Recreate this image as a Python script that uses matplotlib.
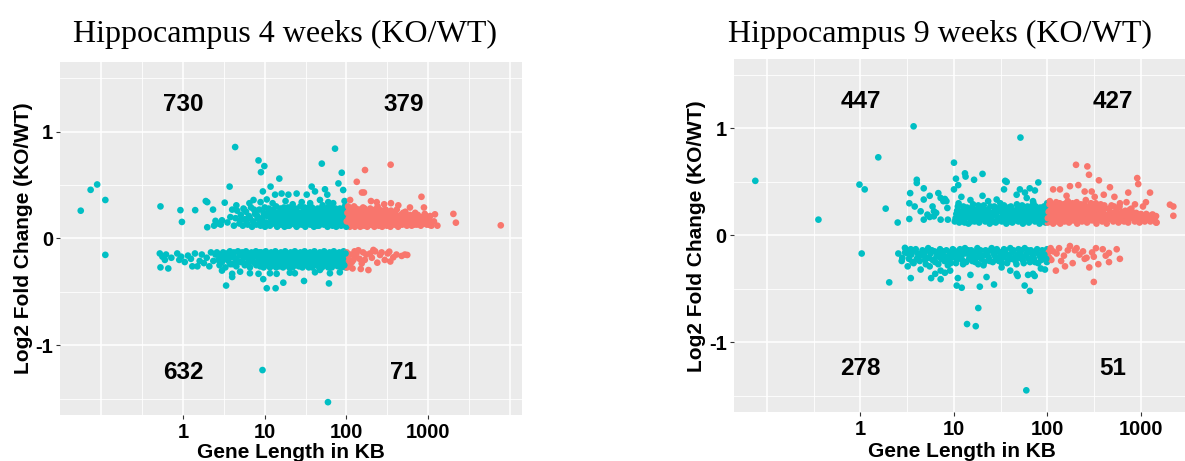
import numpy as np
import matplotlib.pyplot as plt

plt.rcParams['font.family'] = ['Liberation Sans', 'DejaVu Sans']
plt.rcParams['axes.unicode_minus'] = False

TEAL = "#00BFC4"
SALMON = "#F8766D"

# (gene length in KB, log2 fold change)
wk4_up = [
    (0.056, .26), (0.074, .455), (0.089, .505), (0.112, .36),
    (0.53, .30), (0.93, .265), (0.97, .155), (1.41, .265), (1.9, .35), (1.98, .34), (1.98, .105),
    (2.33, .27), (2.5, .165), (2.4, .12), (2.7, .14), (2.9, .13), (3.24, .335), (3.0, .17), (3.5, .15),
    (3.72, .485), (3.8, .20), (4.0, .27), (4.35, .855), (4.5, .31), (5.5, .28),
    (7.3, .36), (8.4, .73), (9.0, .62), (9.9, .677), (8.9, .34), (10.6, .365), (9.5, .44), (11.8, .485),
    (13.4, .41), (15.1, .56), (16.1, .42), (19.5, .41), (24.6, .42), (28.4, .34), (32.7, .41), (37.6, .485),
    (41.3, .44), (47.5, .36), (50, .70), (54.7, .46), (58.4, .41), (69, .33), (72.6, .84), (79.9, .515),
    (87.7, .615), (91.4, .453), (6.5, .33), (12.5, .33), (18, .35), (22, .32), (36, .33), (60, .34), (95, .35),
    (4.2, .12), (4.4, .19), (4.6, .26), (4.9, .14), (5.1, .22), (5.4, .12), (5.7, .18), (5.9, .25), (6.2, .13),
    (6.4, .21), (6.8, .29), (7.0, .11), (7.2, .16), (7.6, .23), (7.9, .13), (8.2, .19), (8.6, .27), (8.9, .12),
    (9.3, .17), (9.7, .24), (10.1, .11), (10.4, .15), (10.8, .21), (11.2, .28), (11.6, .12), (12.0, .18),
    (12.4, .24), (12.9, .14), (13.3, .20), (13.8, .30), (14.2, .11), (14.7, .16), (15.2, .23), (15.8, .13),
    (16.3, .19), (16.9, .26), (17.5, .11), (18.1, .15), (18.7, .21), (19.3, .29), (20.0, .12), (20.7, .18),
    (21.4, .25), (22.2, .14), (23.0, .20), (23.8, .28), (24.6, .11), (25.5, .16), (26.4, .22), (27.3, .30),
    (28.3, .13), (29.3, .19), (30.3, .26), (31.4, .11), (32.5, .16), (33.7, .23), (34.9, .29), (36.1, .13),
    (37.4, .18), (38.7, .25), (40.1, .11), (41.5, .15), (43.0, .21), (44.5, .28), (46.1, .12), (47.7, .18),
    (49.4, .24), (51.2, .31), (53.0, .13), (54.9, .19), (56.8, .26), (58.8, .11), (60.9, .16), (63.1, .22),
    (65.3, .29), (67.6, .12), (70.0, .18), (72.5, .25), (75.1, .11), (77.7, .15), (80.5, .21), (83.3, .28),
    (86.3, .12), (89.3, .17), (92.5, .23), (95.8, .30), (97.5, .13), (99.0, .19),
    (100.5, .12), (102, .20), (104, .28), (106, .15), (108, .23), (110, .11), (113, .18), (115, .26),
    (118, .13), (121, .21), (124, .30), (127, .11), (130, .16), (133, .24), (137, .13), (140, .19),
    (144, .27), (148, .11), (152, .15), (156, .22), (160, .29), (165, .12), (170, .18), (175, .25),
    (180, .11), (185, .15), (190, .21), (196, .28), (202, .13), (208, .19), (214, .26), (220, .11),
    (227, .16), (234, .23), (241, .30), (249, .12), (257, .18), (265, .24), (274, .11), (283, .15),
    (292, .21), (302, .27), (312, .12), (323, .18), (334, .25), (346, .11), (358, .16), (371, .22),
    (385, .13), (399, .19), (414, .27), (430, .11), (447, .16), (465, .22), (484, .13), (505, .19),
    (527, .25), (550, .12), (575, .17), (602, .22), (630, .12), (660, .16), (695, .24), (730, .13),
    (770, .19), (815, .12), (860, .17), (910, .23), (965, .13), (1030, .18), (1100, .12), (1180, .16),
    (348, .69), (169, .64), (134, .53), (164, .43), (155, .43), (111, .36), (235, .34), (351, .33),
    (432, .31), (830, .39), (890, .29), (1214, .226), (2040, .23), (2190, .148), (7760, .123), (725, .20),
    (960, .173), (1050, .126), (200, .35), (290, .32), (600, .29), (1300, .12),
]
wk4_up_band = [
    (5.0, .17), (5.6, .27), (6.0, .15), (6.6, .19), (7.4, .27), (8.0, .22), (8.8, .15), (9.5, .20),
    (10.0, .29), (10.6, .13), (11.0, .24), (11.8, .20), (12.2, .15), (12.7, .27), (13.5, .16), (14.0, .24),
    (14.9, .20), (15.5, .28), (16.1, .15), (16.6, .22), (17.2, .29), (17.8, .18), (18.4, .25), (19.0, .12),
    (19.7, .17), (20.4, .23), (21.0, .29), (21.8, .16), (22.6, .21), (23.4, .13), (24.2, .19), (25.0, .25),
    (25.9, .13), (26.8, .18), (27.8, .24), (28.8, .16), (29.8, .22), (30.8, .29), (31.9, .14), (33.1, .19),
    (34.3, .26), (35.5, .16), (36.8, .21), (38.0, .29), (39.4, .14), (40.8, .19), (42.2, .25), (43.7, .12),
    (45.3, .16), (46.9, .22), (48.5, .28), (50.3, .15), (52.1, .21), (53.9, .27), (55.8, .16), (57.8, .22),
    (59.9, .29), (62.0, .14), (64.2, .19), (66.4, .26), (68.7, .15), (71.2, .21), (73.7, .28), (76.3, .16),
    (79.0, .24), (81.9, .13), (84.8, .19), (87.9, .25), (91.0, .15), (94.0, .21), (97.0, .27), (98.5, .16),
    (99.5, .23), (99.6, .11),
    (101, .16), (103, .24), (105, .30), (107, .19), (109, .27), (111, .15), (114, .22), (116, .13),
    (119, .18), (122, .26), (125, .15), (128, .21), (131, .28), (135, .18), (138, .26), (142, .15),
    (146, .23), (150, .19), (154, .27), (158, .16), (163, .21), (167, .28), (172, .14), (177, .21),
    (182, .18), (188, .25), (193, .13), (199, .17), (205, .23), (211, .15), (217, .21), (224, .27),
    (231, .19), (238, .14), (245, .21), (253, .27), (261, .15), (270, .20), (279, .26), (288, .18),
    (297, .13), (307, .23), (318, .15), (329, .21), (340, .18), (352, .26), (365, .14), (378, .19),
    (392, .24), (406, .15), (422, .21), (438, .18), (456, .13), (475, .18), (495, .24), (516, .15),
    (540, .21), (563, .14), (590, .19), (615, .15), (645, .20), (680, .13), (712, .17), (750, .22),
    (790, .14), (840, .20), (890, .14), (940, .19), (1000, .14), (1060, .21),
]
wk4_dn = [
    (0.112, -.153), (0.52, -.14), (0.53, -.27), (0.56, -.17), (0.6, -.20), (0.62, -.15), (0.66, -.28),
    (0.72, -.18), (0.85, -.14), (0.9, -.20), (0.95, -.17), (1.05, -.22), (1.15, -.16), (1.25, -.19),
    (1.3, -.26), (1.4, -.14), (1.5, -.26), (1.6, -.21), (1.7, -.15), (1.8, -.23), (1.95, -.18),
    (2.1, -.26), (2.2, -.13), (2.35, -.21), (2.5, -.15),
    (3.37, -.44), (9.6, -.38), (10.6, -.465), (13.6, -.465), (16.9, -.413), (30.3, -.397), (61.2, -.42),
    (9.4, -1.23), (59.5, -1.53),
    (6.6, -.325), (8.4, -.33), (11.6, -.325), (14.0, -.33), (20.3, -.32), (23.4, -.325), (41.3, -.316),
    (47.5, -.294), (62.9, -.325), (83, -.316), (4.0, -.33), (4.0, -.36), (3.0, -.30), (5, -.31),
    (2.6, -.13), (2.7, -.20), (2.8, -.25), (2.9, -.16), (3.0, -.22), (3.1, -.13), (3.2, -.18), (3.3, -.27),
    (3.45, -.14), (3.6, -.21), (3.75, -.12), (3.9, -.17), (4.05, -.24), (4.2, -.13), (4.35, -.19),
    (4.5, -.26), (4.7, -.12), (4.9, -.16), (5.1, -.22), (5.3, -.13), (5.5, -.18), (5.7, -.25), (5.9, -.12),
    (6.1, -.15), (6.4, -.21), (6.6, -.27), (6.9, -.13), (7.2, -.18), (7.5, -.23), (7.8, -.12), (8.1, -.16),
    (8.4, -.21), (8.8, -.26), (9.1, -.13), (9.5, -.18), (9.9, -.23), (10.3, -.12), (10.7, -.16),
    (11.1, -.21), (11.6, -.27), (12.0, -.13), (12.5, -.18), (13.0, -.23), (13.5, -.12), (14.0, -.16),
    (14.6, -.21), (15.2, -.26), (15.8, -.13), (16.4, -.18), (17.1, -.23), (17.8, -.12), (18.5, -.16),
    (19.2, -.21), (20.0, -.27), (20.8, -.13), (21.6, -.18), (22.5, -.23), (23.4, -.12), (24.3, -.16),
    (25.3, -.21), (26.3, -.26), (27.4, -.13), (28.5, -.18), (29.6, -.23), (30.8, -.12), (32.0, -.16),
    (33.3, -.21), (34.6, -.27), (36.0, -.13), (37.5, -.18), (39.0, -.23), (40.6, -.12), (42.2, -.16),
    (43.9, -.21), (45.6, -.26), (47.4, -.13), (49.3, -.18), (51.3, -.23), (53.4, -.12), (55.5, -.16),
    (57.7, -.21), (60.0, -.27), (62.4, -.13), (64.9, -.18), (67.5, -.23), (70.2, -.12), (73.0, -.16),
    (75.9, -.21), (79.0, -.26), (82.1, -.13), (85.4, -.18), (88.8, -.23), (92.4, -.12), (96.1, -.16),
    (99.0, -.21), (98, -.27),
    (556, -.154), (475, -.163), (335, -.123), (375, -.176), (295, -.20), (214, -.107), (195, -.14),
    (154, -.233), (186, -.295), (150, -.285), (258, -.154), (239, -.226), (122, -.20), (110, -.26),
    (133, -.14), (101, -.13), (104, -.19), (107, -.24), (113, -.15), (117, -.22), (126, -.12), (129, -.17),
    (140, -.11), (145, -.19), (160, -.13), (168, -.2), (175, -.15), (205, -.18), (225, -.12), (270, -.13),
    (320, -.14), (345, -.215), (410, -.15), (520, -.15), (102, -.27), (119, -.28),
]
wk4_dn_band = [
    (3.0, -.16), (3.4, -.19), (3.8, -.24), (4.1, -.15), (4.6, -.21), (5.0, -.14), (5.4, -.22), (5.8, -.17),
    (6.3, -.24), (6.7, -.16), (7.0, -.21), (7.4, -.14), (7.9, -.25), (8.3, -.18), (8.6, -.13), (9.0, -.22),
    (9.3, -.15), (9.7, -.27), (10.1, -.19), (10.5, -.14), (10.9, -.25), (11.4, -.17), (11.8, -.22),
    (12.3, -.14), (12.8, -.25), (13.2, -.19), (13.8, -.27), (14.3, -.14), (14.9, -.19), (15.5, -.23),
    (16.1, -.15), (16.8, -.27), (17.4, -.20), (18.1, -.14), (18.9, -.25), (19.6, -.18), (20.4, -.22),
    (21.2, -.15), (22.0, -.27), (22.9, -.19), (23.8, -.14), (24.8, -.25), (25.8, -.18), (26.8, -.15),
    (27.9, -.22), (29.0, -.27), (30.2, -.16), (31.4, -.19), (32.6, -.25), (33.9, -.14), (35.3, -.23),
    (36.7, -.16), (38.2, -.27), (39.8, -.19), (41.4, -.14), (43.0, -.25), (44.7, -.17), (46.5, -.22),
    (48.3, -.15), (50.3, -.27), (52.3, -.20), (54.4, -.14), (56.6, -.25), (58.8, -.18), (61.2, -.23),
    (63.6, -.15), (66.2, -.27), (68.8, -.19), (71.6, -.14), (74.5, -.25), (77.4, -.17), (80.5, -.22),
    (83.7, -.15), (87.1, -.27), (90.6, -.19), (94.2, -.25), (97.5, -.14),
]

wk9_up = [
    (0.075, .51), (0.355, .147), (0.975, .475), (1.11, .43), (1.55, .73), (1.86, .25), (2.5, .12),
    (3.33, .153), (3.4, .395), (3.33, .30), (3.7, 1.02), (4.0, .52), (4.0, .49), (4.75, .44), (5.5, .37),
    (6.8, .395), (7.2, .35), (8.0, .34), (8.5, .256), (8.6, .147), (7.2, .147), (6.45, .21), (6.1, .178),
    (5.2, .194), (4.75, .147), (5.5, .172), (6.1, .225), (4.4, .225), (3.8, .27), (7.7, .32), (4.75, .335),
    (5.9, .27), (8.3, .32),
    (10, .68), (10.5, .53), (11.1, .47), (13.1, .58), (13.3, .55), (16.4, .52), (20.2, .575), (10, .43),
    (20.2, .37), (23.2, .32), (28.6, .335), (34.3, .43), (36.6, .50), (35.3, .51), (46.8, .38), (50.7, .43),
    (51.4, .915), (57.4, .40), (64.6, .44), (73.4, .42), (79.8, .495), (60, .35), (70, .32), (12, .36), (15, .33),
    (10.2, .13), (10.6, .20), (11.0, .27), (11.4, .12), (11.9, .17), (12.3, .23), (12.8, .14), (13.3, .19),
    (13.8, .26), (14.3, .11), (14.9, .16), (15.4, .22), (16.0, .29), (16.6, .13), (17.2, .18), (17.9, .24),
    (18.6, .12), (19.3, .16), (20.0, .21), (20.8, .28), (21.6, .13), (22.4, .18), (23.2, .24), (24.1, .11),
    (25.0, .15), (26.0, .21), (27.0, .27), (28.0, .12), (29.1, .17), (30.2, .23), (31.3, .30), (32.5, .13),
    (33.7, .18), (35.0, .24), (36.3, .11), (37.7, .15), (39.1, .21), (40.6, .27), (42.1, .12), (43.7, .17),
    (45.4, .23), (47.1, .29), (48.9, .13), (50.7, .18), (52.6, .24), (54.6, .11), (56.7, .15), (58.8, .21),
    (61.0, .27), (63.3, .12), (65.7, .17), (68.2, .23), (70.8, .30), (73.5, .13), (76.3, .18), (79.2, .24),
    (82.2, .11), (85.3, .15), (88.5, .21), (91.8, .27), (95.3, .12), (98.9, .18), (97, .24), (99.2, .30),
    (100.5, .12), (102, .19), (104, .26), (106, .32), (108, .14), (110, .21), (113, .28), (115, .11),
    (118, .17), (121, .24), (124, .31), (127, .13), (130, .19), (133, .26), (137, .11), (140, .16),
    (144, .22), (148, .29), (152, .13), (156, .18), (160, .25), (165, .32), (170, .12), (175, .17),
    (180, .23), (185, .30), (190, .14), (196, .20), (202, .27), (208, .11), (214, .16), (220, .22),
    (227, .29), (234, .13), (241, .19), (249, .25), (257, .33), (265, .12), (274, .17), (283, .23),
    (292, .30), (302, .14), (312, .20), (323, .26), (334, .11), (346, .16), (358, .22), (371, .29),
    (385, .13), (399, .18), (414, .25), (430, .11), (447, .15), (465, .21), (484, .28), (505, .13),
    (527, .18), (550, .24), (575, .12), (602, .16), (630, .22), (660, .13), (695, .18), (730, .12),
    (770, .16), (815, .21), (860, .13), (910, .17), (965, .12), (1030, .16), (1100, .13), (1180, .17),
    (1260, .13), (1350, .16), (1450, .12),
    (202, .66), (267, .645), (278, .567), (355, .515), (912, .536), (935, .48), (1250, .40), (1130, .31),
    (731, .40), (2040, .287), (2220, .27), (2220, .183), (1450, .18), (1470, .12), (214, .47), (174, .46),
    (466, .45), (297, .41), (596, .30), (760, .24), (863, .29), (977, .18), (1333, .195), (115, .43),
    (136, .43), (250, .41), (400, .38), (520, .36), (700, .31), (160, .37), (320, .36), (1050, .27),
]
wk9_up_band = [
    (10.4, .16), (10.8, .23), (11.2, .30), (11.7, .15), (12.1, .20), (12.6, .27), (13.0, .12), (13.6, .22),
    (14.1, .17), (14.6, .25), (15.2, .13), (15.7, .19), (16.3, .24), (16.9, .16), (17.5, .21), (18.2, .28),
    (18.9, .15), (19.6, .19), (20.4, .25), (21.2, .16), (22.0, .22), (22.8, .14), (23.6, .20), (24.5, .27),
    (25.5, .18), (26.5, .13), (27.5, .24), (28.5, .19), (29.6, .14), (30.7, .26), (31.9, .16), (33.1, .21),
    (34.3, .28), (35.6, .15), (37.0, .19), (38.4, .26), (39.8, .13), (41.3, .18), (42.9, .23), (44.5, .14),
    (46.2, .20), (47.9, .26), (49.8, .16), (51.6, .21), (53.6, .28), (55.6, .14), (57.7, .18), (59.9, .24),
    (62.1, .16), (64.5, .20), (66.9, .27), (69.5, .15), (72.1, .21), (74.8, .27), (77.7, .15), (80.6, .20),
    (83.7, .26), (86.8, .13), (90.1, .18), (93.5, .23), (96.5, .15), (98.0, .28), (99.5, .21),
    (101, .16), (103, .22), (105, .29), (107, .17), (109, .24), (112, .14), (114, .20), (117, .26),
    (119, .14), (122, .20), (126, .27), (129, .16), (132, .22), (135, .30), (139, .14), (142, .20),
    (146, .26), (150, .16), (154, .22), (158, .30), (163, .15), (167, .21), (173, .27), (178, .14),
    (183, .20), (188, .26), (193, .17), (199, .23), (205, .31), (211, .14), (217, .19), (224, .26),
    (231, .16), (238, .22), (245, .29), (253, .15), (261, .21), (270, .27), (279, .14), (288, .20),
    (297, .26), (307, .17), (318, .23), (329, .30), (340, .14), (352, .19), (365, .26), (378, .16),
    (392, .21), (406, .28), (422, .14), (438, .19), (456, .25), (475, .16), (495, .21), (516, .27),
    (540, .15), (563, .20), (590, .27), (615, .14), (645, .19), (680, .23), (712, .15), (750, .20),
    (790, .25), (840, .16), (890, .21), (940, .15), (1000, .20), (1060, .14), (1140, .20), (1220, .15),
    (1300, .19), (1400, .16),
]
wk9_dn = [
    (1.03, -.17), (2.03, -.44), (2.54, -.17), (2.99, -.117), (3.45, -.13), (2.76, -.24), (3.2, -.29),
    (3.45, -.40), (4.4, -.32), (4.9, -.23), (5.5, -.29), (5.7, -.40), (7.2, -.33), (7.2, -.41), (8.0, -.35),
    (9.1, -.33), (10.7, -.47), (12.1, -.49), (18.9, -.48), (22.3, -.39), (26.8, -.46), (32.3, -.30),
    (46.8, -.36), (57, -.47), (64.8, -.52), (70, -.36), (18.2, -.68), (13.8, -.83), (17.1, -.85),
    (59.4, -1.45), (62, -.37), (73, -.38), (94, -.32), (2.8, -.21), (3.0, -.16), (3.6, -.25), (4.2, -.20),
    (6.3, -.36), (8.6, -.28), (15, -.37), (11, -.40), (48, -.38), (40, -.33), (85, -.31),
    (3.1, -.14), (3.3, -.22), (3.5, -.18), (3.7, -.26), (3.9, -.13), (4.1, -.17), (4.3, -.24), (4.6, -.14),
    (4.8, -.19), (5.0, -.27), (5.3, -.12), (5.6, -.17), (5.9, -.23), (6.2, -.15), (6.5, -.20), (6.8, -.27),
    (7.1, -.13), (7.5, -.18), (7.9, -.24), (8.3, -.14), (8.7, -.20), (9.2, -.26), (9.7, -.13), (10.2, -.18),
    (10.7, -.23), (11.3, -.15), (11.9, -.20), (12.5, -.27), (13.1, -.12), (13.8, -.17), (14.5, -.22),
    (15.3, -.14), (16.1, -.19), (16.9, -.25), (17.8, -.12), (18.7, -.17), (19.7, -.22), (20.7, -.28),
    (21.8, -.14), (22.9, -.19), (24.1, -.24), (25.3, -.12), (26.6, -.17), (28.0, -.22), (29.5, -.15),
    (31.0, -.20), (32.6, -.26), (34.3, -.13), (36.1, -.18), (38.0, -.23), (40.0, -.12), (42.1, -.16),
    (44.3, -.21), (46.6, -.27), (49.0, -.13), (51.6, -.18), (54.3, -.23), (57.1, -.12), (60.1, -.17),
    (63.2, -.22), (66.5, -.14), (70.0, -.19), (73.6, -.25), (77.5, -.13), (81.5, -.18), (85.8, -.23),
    (90.2, -.15), (94.9, -.20), (98.5, -.25), (99, -.13),
    (115, -.15), (133, -.12), (174, -.10), (196, -.14), (220, -.18), (150, -.19), (123, -.33), (154, -.29),
    (186, -.26), (262, -.21), (280, -.30), (330, -.12), (313, -.20), (350, -.27), (390, -.13), (455, -.165),
    (455, -.25), (550, -.13), (595, -.22), (313, -.436), (110, -.23), (102, -.16), (105, -.21), (108, -.12),
    (125, -.17), (140, -.24), (165, -.14), (205, -.12), (240, -.15), (250, -.22), (300, -.16), (420, -.19),
]
wk9_dn_band = [
    (3.2, -.17), (3.6, -.15), (4.0, -.22), (4.5, -.18), (4.9, -.15), (5.4, -.21), (5.8, -.14), (6.3, -.25),
    (6.7, -.17), (7.3, -.22), (7.7, -.15), (8.1, -.20), (8.5, -.25), (9.0, -.16), (9.4, -.21), (10.0, -.14),
    (10.5, -.26), (11.0, -.19), (11.6, -.13), (12.2, -.23), (12.8, -.17), (13.5, -.25), (14.2, -.14),
    (14.9, -.19), (15.7, -.24), (16.5, -.16), (17.4, -.21), (18.2, -.27), (19.2, -.14), (20.2, -.19),
    (21.2, -.25), (22.3, -.16), (23.5, -.21), (24.7, -.14), (26.0, -.25), (27.3, -.19), (28.7, -.13),
    (30.2, -.24), (31.8, -.16), (33.4, -.21), (35.2, -.14), (37.0, -.26), (39.0, -.18), (41.0, -.22),
    (43.2, -.14), (45.4, -.24), (47.8, -.18), (50.3, -.21), (52.9, -.14), (55.7, -.26), (58.6, -.19),
    (61.6, -.14), (64.9, -.25), (68.2, -.17), (71.8, -.22), (75.5, -.15), (79.5, -.26), (83.6, -.20),
    (88.0, -.14), (92.5, -.18), (97.0, -.22),
]

wk4_counts = [730, 379, 632, 71]
wk9_counts = [447, 427, 278, 51]
x_ticks = [1, 10, 100, 1000]
y_ticks = [-1, 0, 1]

W, H = 1185, 461
fig = plt.figure(figsize=(W / 100, H / 100), dpi=100)


def px_box(left, top, right, bottom):
    return [left / W, 1 - bottom / H, (right - left) / W, (bottom - top) / H]


def panel(box, points, counts, xlim, grid_x):
    ax = fig.add_axes(box)
    ax.set_facecolor("#EBEBEB")
    ax.set_xscale("log")
    ax.set_xlim(*xlim)
    ax.set_ylim(-1.65, 1.65)
    for g in grid_x:
        major = abs(np.log10(g) - round(np.log10(g))) < 1e-6
        ax.axvline(g, color="white", lw=1.1 if major else 0.6, zorder=0)
    for g in [-1.5, -1, -0.5, 0, 0.5, 1, 1.5]:
        ax.axhline(g, color="white", lw=1.1 if g == int(g) else 0.6, zorder=0)

    pts = np.array(points)
    cols = np.where(pts[:, 0] >= 100, SALMON, TEAL)
    ax.scatter(pts[:, 0], pts[:, 1], s=23, c=cols, linewidths=0, zorder=2)

    pos = [(1, 1.25), (500, 1.25), (1, -1.25), (500, -1.25)]
    for (x, y), n in zip(pos, counts):
        ax.text(x, y, str(n), ha="center", va="center", fontsize=17.5, fontweight="bold")

    ax.set_xticks(x_ticks)
    ax.set_xticklabels([str(t) for t in x_ticks])
    ax.minorticks_off()
    ax.set_yticks(y_ticks)
    ax.set_yticklabels([str(t) for t in y_ticks])
    ax.tick_params(length=3, width=0.8, color="#333333", labelsize=14.5, pad=2)
    ax.tick_params(axis="x", pad=3)
    for lab in ax.get_xticklabels() + ax.get_yticklabels():
        lab.set_fontweight("bold")
    for sp in ax.spines.values():
        sp.set_visible(False)
    return ax


panel(px_box(60.3, 62, 521.7, 415), wk4_up + wk4_up_band + wk4_dn + wk4_dn_band, wk4_counts,
      (10 ** -1.502, 10 ** 4.146),
      [0.1, 10 ** -0.5, 1, 10 ** 0.5, 10, 10 ** 1.5, 100, 10 ** 2.5, 1000, 10 ** 3.5, 10000])
panel(px_box(733.8, 59, 1185, 411.7), wk9_up + wk9_up_band + wk9_dn + wk9_dn_band, wk9_counts,
      (10 ** -1.355, 10 ** 3.471),
      [0.1, 10 ** -0.5, 1, 10 ** 0.5, 10, 10 ** 1.5, 100, 10 ** 2.5, 1000])

serif = ["Liberation Serif", "DejaVu Serif"]
fig.text(285 / W, 1 - 42 / H, "Hippocampus 4 weeks (KO/WT)", ha="center", va="baseline",
         fontsize=23, family=serif)
fig.text(940 / W, 1 - 42 / H, "Hippocampus 9 weeks (KO/WT)", ha="center", va="baseline",
         fontsize=23, family=serif)

fig.text(24 / W, 1 - 238 / H, "Log2 Fold Change (KO/WT)", rotation=90, ha="center", va="center",
         fontsize=15, fontweight="bold")
fig.text(697 / W, 1 - 236.5 / H, "Log2 Fold Change (KO/WT)", rotation=90, ha="center", va="center",
         fontsize=15, fontweight="bold")
fig.text(291 / W, 1 - 443 / H, "Gene Length in KB", ha="center", va="top",
         fontsize=15, fontweight="bold")
fig.text(962 / W, 1 - 441.7 / H, "Gene Length in KB", ha="center", va="top",
         fontsize=15, fontweight="bold")

fig.savefig("out.png", dpi=100, facecolor="white")
